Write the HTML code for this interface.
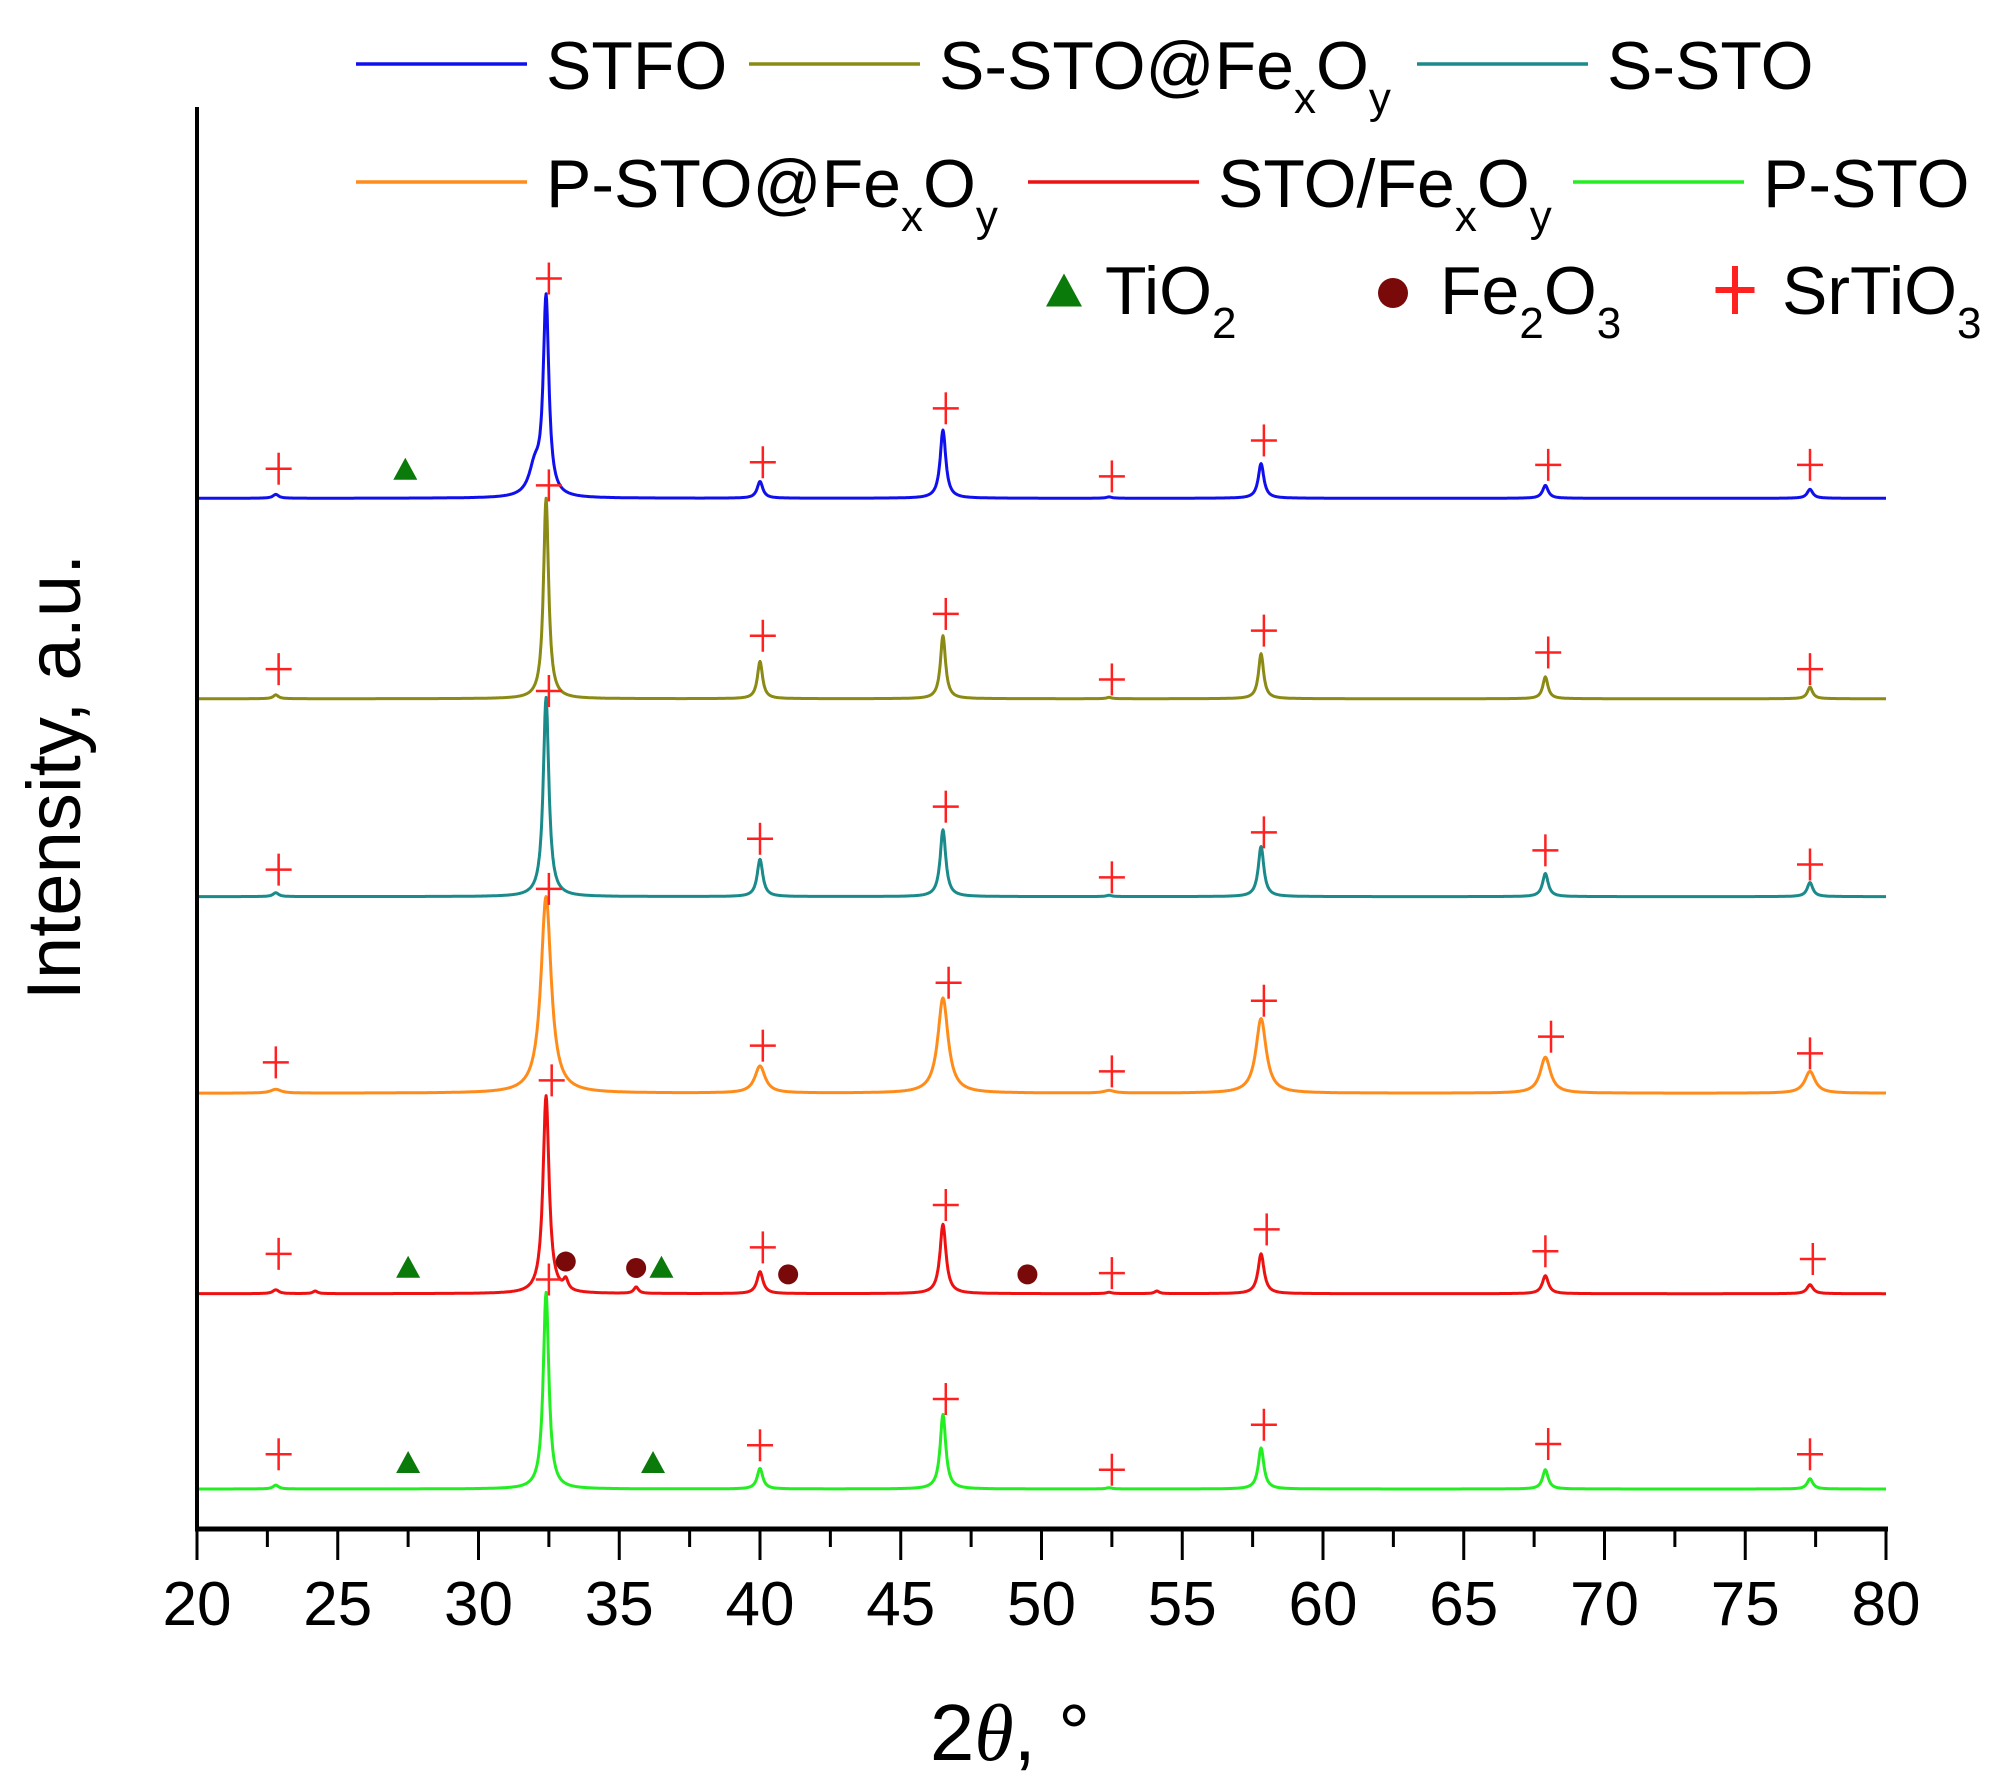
<!DOCTYPE html>
<html><head><meta charset="utf-8"><style>
html,body{margin:0;padding:0;background:#fff;}
svg{display:block;font-family:"Liberation Sans",sans-serif;}
</style></head><body>
<svg id="chart" width="2005" height="1781" viewBox="0 0 2005 1781" xmlns="http://www.w3.org/2000/svg">
<g id="plot"></g>
<g id="axes"></g>
<g id="legend"></g>
</svg>
<script>
// ---- data (intensities in arbitrary units) ----
const xTicks = [20,25,30,35,40,45,50,55,60,65,70,75,80];
const seriesNames = ["STFO","S-STO@FexOy","S-STO","P-STO@FexOy","STO/FexOy","P-STO"];
const seriesColors = ["#1010ee","#8a8a14","#1a8a8a","#ff8c1a","#ee1111","#22ee22"];
const seriesOffsets = [771,615,461,308,152,0];
const peakPositions = [22.8,32.4,40.0,46.5,52.4,57.8,67.9,77.3];
const stfoPeaks   = [3,153,13,53,1,27,10,7];
const sstoFePeaks = [3,156,29,49,1,35,17,9];
const sstoPeaks   = [3,155,29,52,1,39,18,11];
const pstoFePeaks = [3,153,21,74,2,58,28,17];
const stoFePeaks  = [3,154,17,54,1,31,14,7];
const pstoPeaks   = [3,153,16,58,1,32,15,8];
const peakWidths  = [0.12,0.11,0.12,0.22,0.13,0.12];
const stoFeExtraPos = [33.1,35.6,24.2,54.1];
const stoFeExtraVal = [8,5,2,2];
const stfoShoulderPos = 32.0, stfoShoulderVal = 22;
// marker positions (2theta, intensity above baseline)
const crossX = [[22.9,32.5,40.1,46.6,52.5,57.9,68.0,77.3],[22.9,32.5,40.1,46.6,52.5,57.9,68.0,77.3],[22.9,32.5,40.0,46.6,52.5,57.9,67.9,77.3],[22.8,32.5,40.1,46.7,52.5,57.9,68.1,77.3],[22.9,32.6,40.1,46.6,52.5,58.0,67.9,77.4],[22.9,32.5,40.0,46.6,52.5,57.9,68.0,77.3]];
const crossY = [[23,171,28,70,17,45,26,26],[23,166,49,66,15,53,36,23],[21,160,45,70,15,50,36,25],[24,159,37,86,17,72,44,31],[31,166,36,69,16,50,33,27],[27,163,34,70,15,50,35,27]];
const triSeries = [0,4,4,5,5];
const triX = [27.4,27.5,36.5,27.5,36.2];
const triY = [23,21,21,21,21];
const circX = [33.1,35.6,41.0,49.5];
const circY = [25,20,15,15];

const allPeaks=[stfoPeaks,sstoFePeaks,sstoPeaks,pstoFePeaks,stoFePeaks,pstoPeaks];
const NS="http://www.w3.org/2000/svg";
const X0=197,X1=1886,BASE=1489,K=1.285;
const sx=v=>X0+(v-20)/60*(X1-X0);
const sy=v=>BASE-v*K;
function mk(tag,attrs,parent){const e=document.createElementNS(NS,tag);for(const k in attrs)e.setAttribute(k,attrs[k]);parent.appendChild(e);return e;}
const plot=document.getElementById('plot'),axes=document.getElementById('axes'),legend=document.getElementById('legend');

function lor(x,c,h,w){const d=(x-c)/w;return h/(1+d*d);}
for(let s=0;s<6;s++){
  let d='';
  for(let x=20;x<=80.0001;x+=0.02){
    let v=seriesOffsets[s];
    for(let i=0;i<peakPositions.length;i++)v+=lor(x,peakPositions[i],allPeaks[s][i],peakWidths[s]);
    if(s==0)v+=lor(x,stfoShoulderPos,stfoShoulderVal,0.25);
    if(s==4)for(let j=0;j<stoFeExtraPos.length;j++)v+=lor(x,stoFeExtraPos[j],stoFeExtraVal[j],0.1);
    d+=(d?'L':'M')+sx(x).toFixed(1)+' '+sy(v).toFixed(1);
  }
  const p=mk('path',{d:d,fill:'none',stroke:seriesColors[s],'stroke-width':3,'stroke-linejoin':'round'},plot);
  
  
}
function cross(cx,cy,parent,sw,sz){
  sw=sw||2.5;sz=sz||1;
  const g=mk('g',{stroke:'#ff2020','stroke-width':sw},parent);
  
  
  mk('line',{x1:cx-13*sz,y1:cy,x2:cx+13*sz,y2:cy},g);mk('line',{x1:cx,y1:cy-16*sz,x2:cx,y2:cy+16*sz},g);
}
function tri(cx,cy,parent,sz){sz=sz||1;const t=mk('path',{d:`M${cx-12*sz} ${cy+11*sz}L${cx+12*sz} ${cy+11*sz}L${cx} ${cy-11*sz}Z`,fill:'#0a7a0a'},parent);
  
  }
function circ(cx,cy,parent,r){const c=mk('circle',{cx:cx,cy:cy,r:r||10,fill:'#7a0a0a'},parent);
  
  }
for(let s=0;s<6;s++)for(let i=0;i<crossX[s].length;i++)cross(sx(crossX[s][i]),sy(seriesOffsets[s]+crossY[s][i]),plot);
for(let i=0;i<triX.length;i++)tri(sx(triX[i]),sy(seriesOffsets[triSeries[i]]+triY[i]),plot);
for(let i=0;i<circX.length;i++)circ(sx(circX[i]),sy(seriesOffsets[4]+circY[i]),plot);

// axes
const AY=1529;
let e=mk('line',{x1:X0,y1:107,x2:X0,y2:AY,stroke:'#000','stroke-width':4},axes);


e=mk('line',{x1:X0-2,y1:AY,x2:X1+2,y2:AY,stroke:'#000','stroke-width':5},axes);


for(let v=20;v<=80;v+=2.5){
  const major=Math.abs(v%5)<1e-6;
  mk('line',{x1:sx(v),y1:AY,x2:sx(v),y2:AY+(major?31:18),stroke:'#000','stroke-width':3},axes);
}
for(const t of xTicks){
  const tx=mk('text',{x:sx(t),y:1625,'font-size':62,'text-anchor':'middle',fill:'#000'},axes);
  tx.textContent=t;
  
  
}
e=mk('text',{x:1010,y:1760,'font-size':80,'text-anchor':'middle',fill:'#000'},axes);
e.innerHTML='2<tspan font-family="Liberation Serif" font-style="italic">θ</tspan>, °';


e=mk('text',{x:0,y:0,'font-size':76,'text-anchor':'middle',fill:'#000',transform:'translate(80,777) rotate(-90)'},axes);
e.textContent='Intensity, a.u.';



// legend
const legX=[356,749,1417,356,1028,1573], legY=[64,64,64,182,182,182];
const legLabels=[['STFO'],['S-STO@Fe','x','O','y'],['S-STO'],['P-STO@Fe','x','O','y'],['STO/Fe','x','O','y'],['P-STO']];
for(let s=0;s<6;s++){
  const g=mk('g',{},legend);
  
  
  mk('line',{x1:legX[s],y1:legY[s],x2:legX[s]+171,y2:legY[s],stroke:seriesColors[s],'stroke-width':3.5},g);
  const t=mk('text',{x:legX[s]+190,y:legY[s]+25,'font-size':68,fill:'#000'},g);
  const L=legLabels[s];
  if(L.length==1)t.textContent=L[0];
  else t.innerHTML=`${L[0]}<tspan font-size="44" dy="24">${L[1]}</tspan><tspan dy="-24">${L[2]}</tspan><tspan font-size="44" dy="24">${L[3]}</tspan>`;
}
tri(1064,290,legend,1.5);
circ(1393,293,legend,15);
cross(1735,290,legend,6,1.5);
const mLab=[[1105,'TiO','2'],[1440,'Fe','2','O','3'],[1782,'SrTiO','3']];
for(const m of mLab){
  const t=mk('text',{x:m[0],y:314,'font-size':68,fill:'#000'},legend);
  if(m.length==3)t.innerHTML=`${m[1]}<tspan font-size="44" dy="24">${m[2]}</tspan>`;
  else t.innerHTML=`${m[1]}<tspan font-size="44" dy="24">${m[2]}</tspan><tspan dy="-24">${m[3]}</tspan><tspan font-size="44" dy="24">${m[4]}</tspan>`;
  
  
}
</script>
</body></html>
